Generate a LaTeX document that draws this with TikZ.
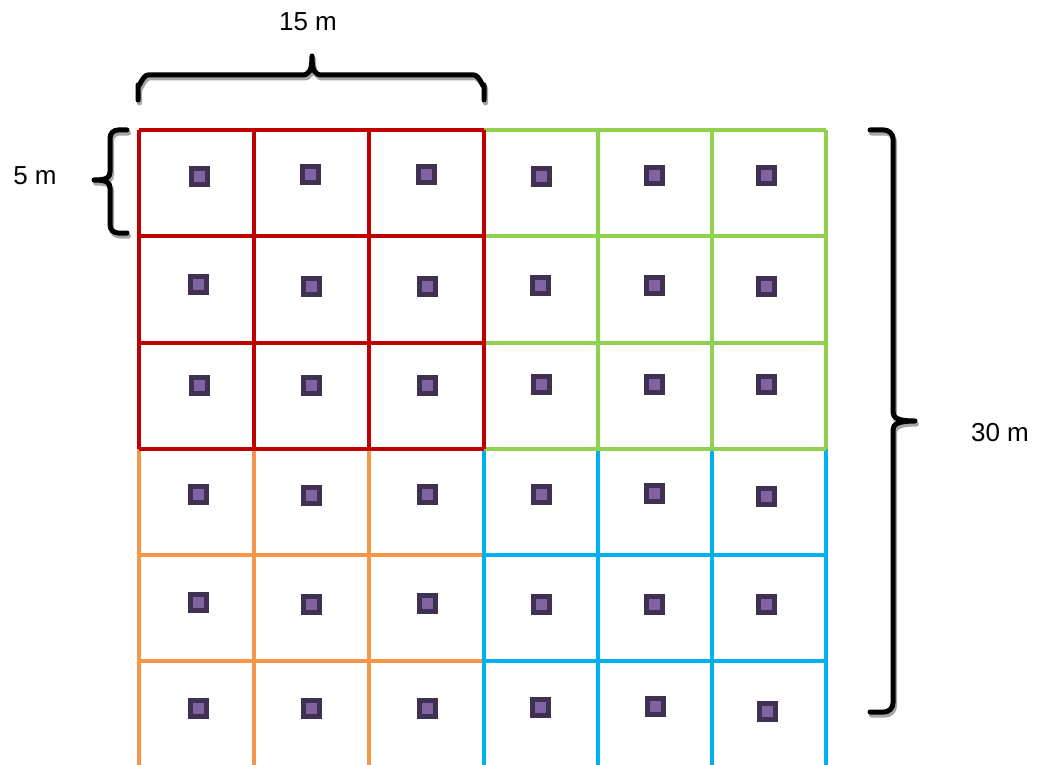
\documentclass[tikz,border=0pt]{standalone}
\usepackage{fontspec}
\setmainfont{Liberation Sans}
\definecolor{qred}{HTML}{C00000}
\definecolor{qgreen}{HTML}{92D050}
\definecolor{qorange}{HTML}{F79646}
\definecolor{qblue}{HTML}{00B0F0}
\definecolor{sqouter}{HTML}{403152}
\definecolor{sqinner}{HTML}{8064A2}
\definecolor{shadowgray}{HTML}{A6A6A6}
\tikzset{
  gridline/.style={line width=3.5pt},
  sqbox/.style={draw=none, fill=sqouter, minimum size=21pt, inner sep=0pt, outer sep=0pt,
    path picture={\fill[sqinner] ([shift={(-5.5pt,-5.5pt)}]path picture bounding box.center) rectangle ([shift={(5.5pt,5.5pt)}]path picture bounding box.center);}},
  bracepath/.style={line width=5pt, line cap=round, line join=round},
  lbl/.style={font=\fontsize{26}{30}\selectfont, inner sep=0pt}
}
\begin{document}
\begin{tikzpicture}[x=1pt,y=-1pt]
\useasboundingbox (0,0) rectangle (1038,765);
% orange quadrant
\draw[gridline, qorange] (139,449) -- (484,449);
\draw[gridline, qorange] (139,555) -- (484,555);
\draw[gridline, qorange] (139,661) -- (484,661);
\foreach \x in {139,254,369} \draw[gridline, qorange] (\x,449) -- (\x,767);
% blue quadrant
\draw[gridline, qblue] (484,449) -- (826,449);
\draw[gridline, qblue] (484,555) -- (826,555);
\draw[gridline, qblue] (484,661) -- (826,661);
\foreach \x in {484,598,712,826} \draw[gridline, qblue] (\x,449) -- (\x,767);
% green quadrant
\foreach \y in {130,236,343,449} \draw[gridline, qgreen] (484,\y) -- (826,\y);
\foreach \x in {484,598,712,826} \draw[gridline, qgreen] (\x,130) -- (\x,449);
% red quadrant
\foreach \y in {130,236,343,449} \draw[gridline, qred] (139,\y) -- (484,\y);
\foreach \x in {139,254,369,484} \draw[gridline, qred] (\x,130) -- (\x,449);
% squares
\node[sqbox] (s11) at (199,176) {};
\node[sqbox] (s12) at (310,174) {};
\node[sqbox] (s13) at (426,174) {};
\node[sqbox] (s14) at (541,176) {};
\node[sqbox] (s15) at (654,175) {};
\node[sqbox] (s16) at (766,175) {};
\node[sqbox] (s21) at (198,284) {};
\node[sqbox] (s22) at (311,286) {};
\node[sqbox] (s23) at (427,286) {};
\node[sqbox] (s24) at (540,285) {};
\node[sqbox] (s25) at (654,285) {};
\node[sqbox] (s26) at (766,286) {};
\node[sqbox] (s31) at (199,385) {};
\node[sqbox] (s32) at (311,385) {};
\node[sqbox] (s33) at (427,385) {};
\node[sqbox] (s34) at (541,384) {};
\node[sqbox] (s35) at (654,384) {};
\node[sqbox] (s36) at (766,384) {};
\node[sqbox] (s41) at (198,494) {};
\node[sqbox] (s42) at (311,495) {};
\node[sqbox] (s43) at (427,494) {};
\node[sqbox] (s44) at (541,494) {};
\node[sqbox] (s45) at (654,493) {};
\node[sqbox] (s46) at (766,496) {};
\node[sqbox] (s51) at (198,602) {};
\node[sqbox] (s52) at (311,604) {};
\node[sqbox] (s53) at (427,603) {};
\node[sqbox] (s54) at (541,604) {};
\node[sqbox] (s55) at (654,604) {};
\node[sqbox] (s56) at (766,604) {};
\node[sqbox] (s61) at (198,708) {};
\node[sqbox] (s62) at (311,708) {};
\node[sqbox] (s63) at (427,708) {};
\node[sqbox] (s64) at (540,707) {};
\node[sqbox] (s65) at (655,706) {};
\node[sqbox] (s66) at (767,711) {};
% braces (shadow then black)
\foreach \c/\dx/\dy in {shadowgray/1.5/3, black/0/0}{
  \begin{scope}[shift={(\dx,\dy)}]
  \draw[bracepath, \c] (138,100) -- (138,85) to[out=-90,in=180] (148,75) -- (302,75)
     .. controls (309,75) and (312,71) .. (312,56)
     .. controls (312,71) and (315,75) .. (322,75) -- (474,75) to[out=0,in=-90] (484,85) -- (484,100);
  \draw[bracepath, \c] (127,130) -- (118,130) to[out=180,in=90] (110,138) -- (110,172)
     .. controls (110,178) and (106,180) .. (94,180)
     .. controls (106,180) and (110,182) .. (110,188) -- (110,225) to[out=-90,in=180] (118,233) -- (127,233);
  \draw[bracepath, \c] (870,130) -- (884,130) to[out=0,in=90] (893,139) -- (893,412)
     .. controls (893,418) and (898,421) .. (915,421)
     .. controls (898,421) and (893,424) .. (893,430) -- (893,703) to[out=-90,in=0] (884,712) -- (870,712);
  \end{scope}
}
% labels
\node[lbl] (t15) at (308,22) {15 m};
\node[lbl] (t5) at (35,176) {5 m};
\node[lbl] (t30) at (1000,433) {30 m};
\end{tikzpicture}
\end{document}
